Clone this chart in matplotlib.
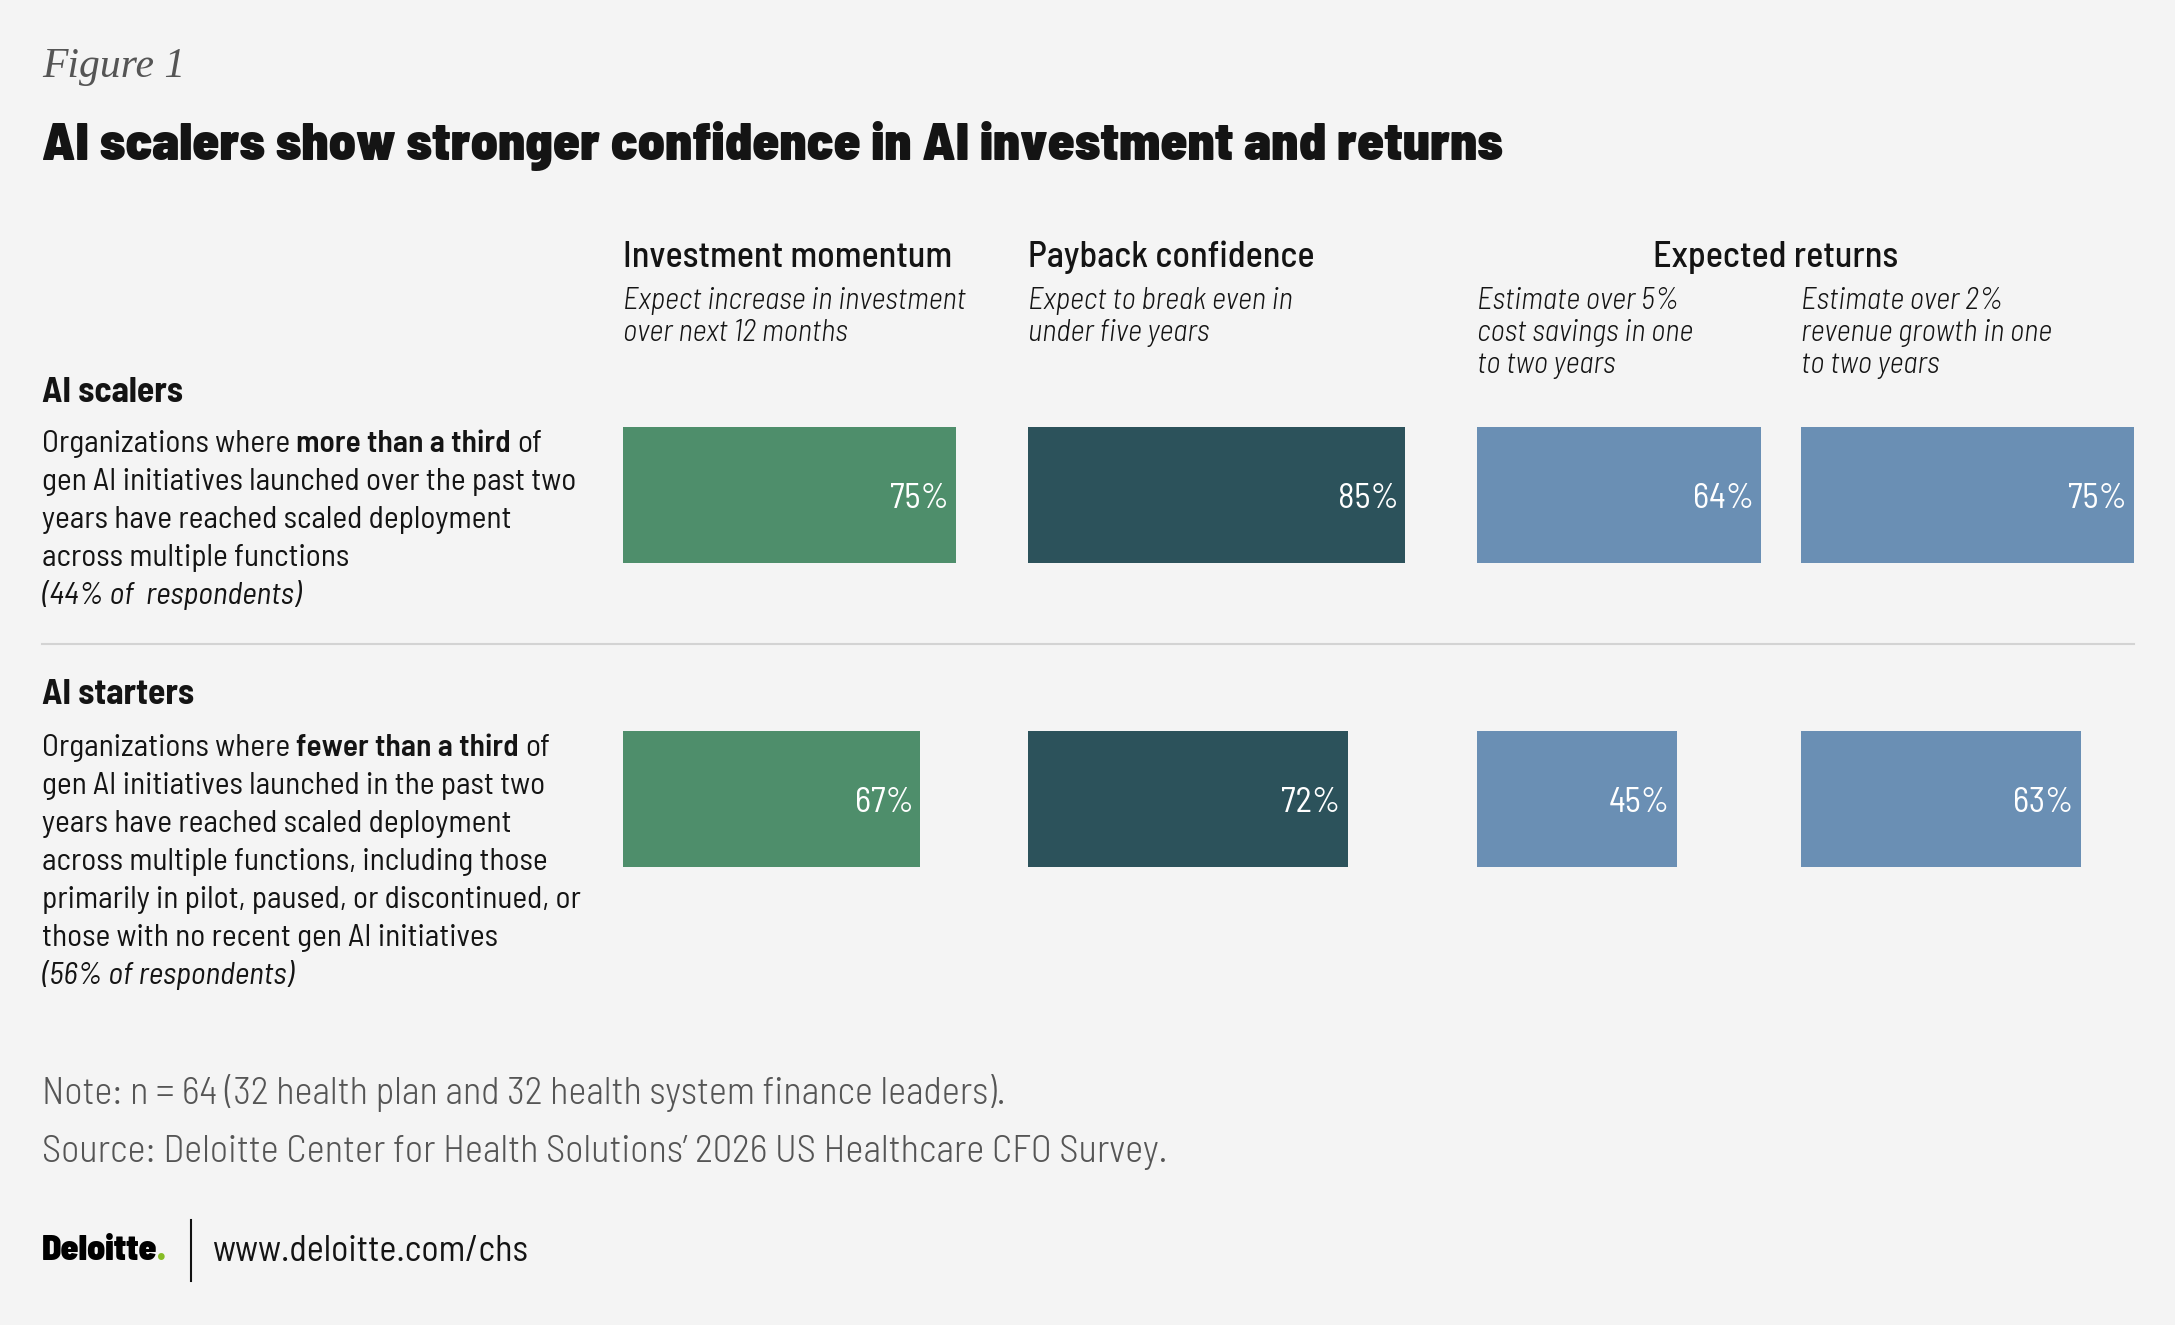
import matplotlib
matplotlib.use("Agg")
import matplotlib.pyplot as plt
from matplotlib.lines import Line2D

# data
metric_titles = ["Investment momentum", "Payback confidence", "", ""]
metric_notes = [
    ["Expect increase in investment", "over next 12 months"],
    ["Expect to break even in", "under five years"],
    ["Estimate over 5%", "cost savings in one", "to two years"],
    ["Estimate over 2%", "revenue growth in one", "to two years"],
]
group_title = "Expected returns"
segments = ["AI scalers", "AI starters"]
scalers = [75, 85, 64, 75]
starters = [67, 72, 45, 63]
bar_colors = ["#4e8e6b", "#2c525b", "#6a8fb4", "#6a8fb4"]

W, H = 2175, 1325
BG = "#f4f4f4"
FONT = "Barlow Semi Condensed"
INK = "#141414"

fig = plt.figure(figsize=(W / 100, H / 100), dpi=100, facecolor=BG)
renderer = fig.canvas.get_renderer()


def put(x, y, s, **kw):
    # x, y in pixels from the top-left corner, y is the baseline
    kw.setdefault("family", FONT)
    kw.setdefault("color", INK)
    return fig.text(x / W, 1 - y / H, s, va="baseline", ha=kw.pop("ha", "left"), **kw)


def space_width(size, weight="normal", style="normal"):
    a = put(0, 0, "n n", fontsize=size, fontweight=weight, style=style)
    b = put(0, 0, "nn", fontsize=size, fontweight=weight, style=style)
    w = a.get_window_extent(renderer).width - b.get_window_extent(renderer).width
    a.remove()
    b.remove()
    return w


def put_runs(x, y, runs, size, gap=True):
    sp = space_width(size) if gap else 0
    for txt, weight, color in runs:
        t = put(x, y, txt, fontsize=size, fontweight=weight, color=color)
        x += t.get_window_extent(renderer).width + sp


# header
put(42, 77, "Figure 1", family="Liberation Serif", style="italic", fontsize=30, color="#555555")
put(42, 160, "AI scalers show stronger confidence in AI investment and returns",
    fontsize=38.6, fontweight=900)

col_left = [623, 1028, 1477, 1801]
px_per_pct = 4.44
for i, left in enumerate(col_left):
    if metric_titles[i]:
        put(left, 267, metric_titles[i], fontsize=26, fontweight=500)
    for j, line in enumerate(metric_notes[i]):
        put(left, 309 + 32 * j, line, fontsize=22, style="italic", fontweight=300)
put(1653, 267, group_title, fontsize=26, fontweight=500)

# row descriptions
body = 22.6
lead = 38
put(42, 402, segments[0], fontsize=25.5, fontweight=700)
put_runs(42, 452, [("Organizations where", "normal", INK),
                   ("more than a third", 600, INK),
                   ("of", "normal", INK)], body)
for j, line in enumerate(["gen AI initiatives launched over the past two",
                          "years have reached scaled deployment",
                          "across multiple functions"]):
    put(42, 452 + lead * (j + 1), line, fontsize=body)
put(42, 452 + lead * 4, "(44% of  respondents)", fontsize=body, style="italic")

put(42, 704, segments[1], fontsize=25.5, fontweight=700)
put_runs(42, 756, [("Organizations where", "normal", INK),
                   ("fewer than a third", 600, INK),
                   ("of", "normal", INK)], body)
for j, line in enumerate(["gen AI initiatives launched in the past two",
                          "years have reached scaled deployment",
                          "across multiple functions, including those",
                          "primarily in pilot, paused, or discontinued, or",
                          "those with no recent gen AI initiatives"]):
    put(42, 756 + lead * (j + 1), line, fontsize=body)
put(42, 756 + lead * 6, "(56% of respondents)", fontsize=body, style="italic")

# separator between the two groups
fig.add_artist(Line2D([42 / W, 2134 / W], [1 - 644 / H, 1 - 644 / H],
                      color="#d3d3d3", lw=1.5, transform=fig.transFigure))

# bars, one small axes per metric
row_gap = 303.5
bar_h = 136
top = 427
ax_h = row_gap + bar_h
h = bar_h / row_gap
for i, left in enumerate(col_left):
    ax = fig.add_axes([left / W, 1 - (top + ax_h) / H, 100 * px_per_pct / W, ax_h / H])
    ax.set_facecolor("none")
    vals = [scalers[i], starters[i]]
    ax.barh([0, 1], vals, height=h, color=bar_colors[i])
    ax.set_xlim(0, 100)
    ax.set_ylim(1 + h / 2, -h / 2)
    ax.axis("off")
    for k, v in enumerate(vals):
        ax.annotate(f"{v}%", (v, k), xytext=(-5, -9.5), textcoords="offset points",
                    ha="right", va="baseline", color="white", fontsize=25,
                    family=FONT, fontweight=400)

# notes and footer
put(42, 1104, "Note: n = 64 (32 health plan and 32 health system finance leaders).",
    fontsize=27.6, fontweight=300, color="#555555")
put(42, 1162, "Source: Deloitte Center for Health Solutions\u2019 2026 US Healthcare CFO Survey.",
    fontsize=27.7, fontweight=300, color="#555555")

put_runs(42, 1260, [("Deloitte", 900, "#000000"), (".", 900, "#86bc25")], 25.5, gap=False)
fig.add_artist(Line2D([191 / W, 191 / W], [1 - 1220 / H, 1 - 1281 / H],
                      color="#111111", lw=1.5, transform=fig.transFigure))
put(213, 1261, "www.deloitte.com/chs", fontsize=26, fontweight=400)

fig.savefig("out.png", dpi=100, facecolor=BG)
